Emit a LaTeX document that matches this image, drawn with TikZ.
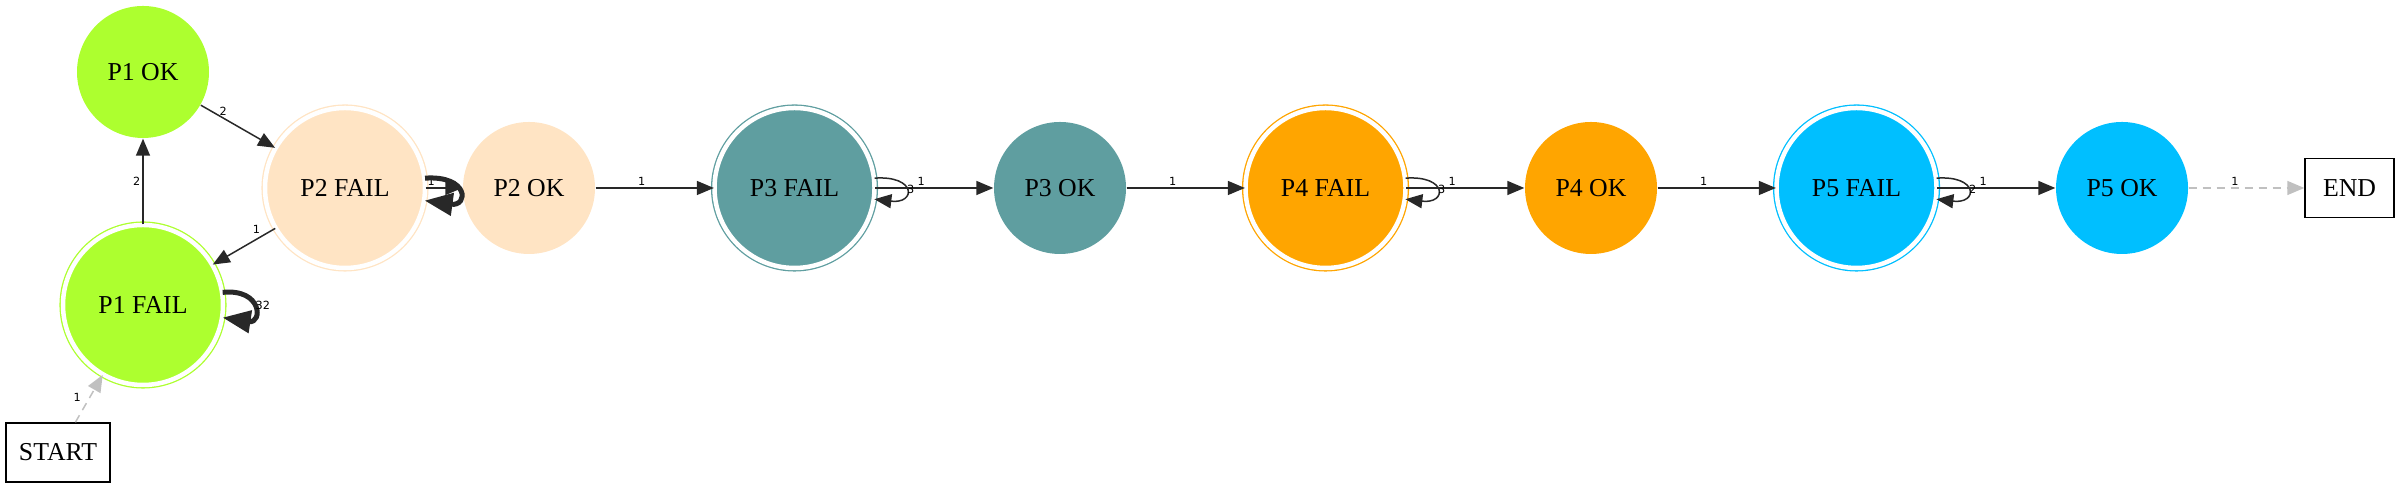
\documentclass[tikz,border=0pt]{standalone}
\usepackage{fontspec}
\setmainfont{Liberation Serif}
\newfontfamily\labelfont{DejaVu Sans}
\usepackage{tikz}
\usetikzlibrary{positioning, arrows.meta}
\usepackage{xcolor}
\definecolor{greenyellow}{HTML}{ADFF2F}
\definecolor{bisque}{HTML}{FFE4C4}
\definecolor{cadetblue}{HTML}{5F9EA0}
\definecolor{orangeweb}{HTML}{FFA500}
\definecolor{deepskyblue}{HTML}{00BFFF}
\definecolor{edgegray}{HTML}{282828}
\definecolor{silver}{HTML}{C0C0C0}

\begin{document}
\begin{tikzpicture}[
    node distance=2.655cm,
    on grid,
    >={Triangle[length=0.17cm, width=0.14cm]},
    every node/.style={font=\fontsize{7.34}{8.8}\selectfont},
    okstate/.style={circle, minimum size=1.32cm, inner sep=0pt},
    failstate/.style={circle, minimum size=1.6cm, inner sep=0pt, line width=0.013cm, double=white, double distance=0.045cm},
    endpoint/.style={draw, line width=0.015cm, minimum height=0.59cm, inner sep=0pt},
    lbl/.style={font=\labelfont\fontsize{3.2}{3.8}\selectfont, inner sep=0.02cm},
    arrow/.style={->, line width=0.015cm, draw=edgegray},
    heavyarrow/.style={-{Triangle[length=0.28cm, width=0.22cm]}, line width=0.05cm, draw=edgegray},
    dasharrow/.style={->, line width=0.015cm, draw=silver, dash pattern=on 0.08cm off 0.06cm},
]
\useasboundingbox (0,0) rectangle (24,4.89);

% ── Phase 1 ──
\node[failstate, draw=greenyellow, fill=greenyellow] (p1fail) at (1.43,1.84) {P1 FAIL};
\node[okstate, fill=greenyellow, above=2.33cm of p1fail] (p1ok) {P1 OK};
\node[endpoint, minimum width=1.04cm, below left=1.475cm and 0.85cm of p1fail] (start) {START};

% ── Phase 2 ──
\node[failstate, draw=bisque, fill=bisque, above right=1.17cm and 2.02cm of p1fail] (p2fail) {P2 FAIL};
\node[okstate, fill=bisque, right=1.84cm of p2fail] (p2ok) {P2 OK};

% ── Phases 3 to 5 ──
\node[failstate, draw=cadetblue, fill=cadetblue, right=of p2ok] (p3fail) {P3 FAIL};
\node[okstate, fill=cadetblue, right=of p3fail] (p3ok) {P3 OK};
\node[failstate, draw=orangeweb, fill=orangeweb, right=of p3ok] (p4fail) {P4 FAIL};
\node[okstate, fill=orangeweb, right=of p4fail] (p4ok) {P4 OK};
\node[failstate, draw=deepskyblue, fill=deepskyblue, right=of p4ok] (p5fail) {P5 FAIL};
\node[okstate, fill=deepskyblue, right=of p5fail] (p5ok) {P5 OK};
\node[endpoint, minimum width=0.89cm, right=2.275cm of p5ok] (end) {END};

% ── Arrows ──
\draw[dasharrow] (start) -- (p1fail) node[lbl, pos=0.52, left=0.06cm] {1};
\draw[arrow] (p1fail) -- (p1ok) node[lbl, midway, left] {2};
\draw[arrow] (p1ok) -- (p2fail) node[lbl, pos=0.3, above] {2};
\draw[arrow] (p2fail) -- (p1fail) node[lbl, pos=0.3, above=0.03cm] {1};
\draw[heavyarrow] (p1fail.9) .. controls +(0.4,0.04) and +(0.4,-0.06) .. (p1fail.-9)
    node[lbl, pos=0.5, anchor=west, inner sep=0.005cm] {32};

\draw[arrow] (p2fail) -- (p2ok) node[lbl, pos=0.15, above] {1};
\draw[heavyarrow] (p2fail.7) .. controls +(0.44,0.03) and +(0.44,-0.06) .. (p2fail.-9);

\draw[arrow] (p2ok) -- (p3fail) node[lbl, pos=0.39, above] {1};
\draw[arrow] (p3fail) -- (p3ok) node[lbl, pos=0.39, above] {1};
\draw[arrow] (p3fail.7) .. controls +(0.42,0.03) and +(0.42,-0.05) .. (p3fail.-8)
    node[lbl, pos=0.5, anchor=west, inner sep=0.005cm] {3};

\draw[arrow] (p3ok) -- (p4fail) node[lbl, pos=0.39, above] {1};
\draw[arrow] (p4fail) -- (p4ok) node[lbl, pos=0.39, above] {1};
\draw[arrow] (p4fail.7) .. controls +(0.42,0.03) and +(0.42,-0.05) .. (p4fail.-8)
    node[lbl, pos=0.5, anchor=west, inner sep=0.005cm] {3};

\draw[arrow] (p4ok) -- (p5fail) node[lbl, pos=0.39, above] {1};
\draw[arrow] (p5fail) -- (p5ok) node[lbl, pos=0.39, above] {1};
\draw[arrow] (p5fail.7) .. controls +(0.42,0.03) and +(0.42,-0.05) .. (p5fail.-8)
    node[lbl, pos=0.5, anchor=west, inner sep=0.005cm] {2};

\draw[dasharrow] (p5ok) -- (end) node[lbl, pos=0.4, above] {1};

\end{tikzpicture}
\end{document}
